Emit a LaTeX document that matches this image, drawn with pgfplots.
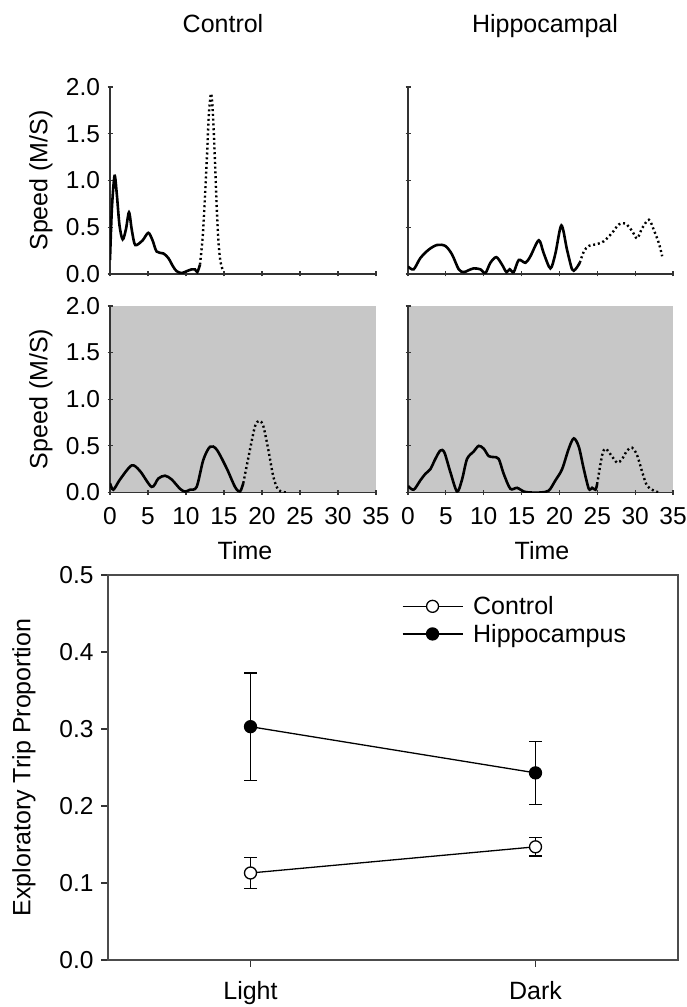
\documentclass[border=0pt]{standalone}
\usepackage{fontspec}
\setmainfont{Liberation Sans}
\usepackage{pgfplots}
\pgfplotsset{compat=1.18}

\newcommand{\lbl}{\fontsize{25}{30}\selectfont}
\newcommand{\tk}{\fontsize{24.5}{28}\selectfont}

\pgfplotsset{
  speed/.style={
    scale only axis, width=266pt, height=187pt,
    xmin=0, xmax=35, ymin=0, ymax=2,
    axis lines=left, axis line style={-, line width=1.6pt, black!80},
    xtick={0,5,...,35}, ytick={0,0.5,1,1.5,2},
    tick align=center, major tick length=5pt,
    tick style={line width=1.2pt, black!80},
    tick label style={font=\tk},
    /pgf/number format/assume math mode=true,
    yticklabel style={/pgf/number format/fixed, /pgf/number format/fixed zerofill,
      /pgf/number format/precision=1, xshift=-4pt},
    xticklabel style={yshift=-9pt},
  },
  run/.style={black, line width=2.6pt, smooth, no marks},
  dots/.style={black, line width=2.4pt, smooth, no marks, dash pattern=on 2pt off 2.8pt},
  dark/.style={axis background/.style={fill=black!22}},
}

\begin{document}
\begin{tikzpicture}
\path[use as bounding box] (0,0) rectangle (687pt,1007pt);

\node[anchor=base, font=\lbl] at (223pt,974pt) {Control};
\node[anchor=base, font=\lbl] at (545pt,974pt) {Hippocampal};

% light, control
\begin{axis}[speed, at={(110pt,733pt)}, anchor=south west, xticklabels={}]
\addplot[run] coordinates {(0,0.15) (0.25,0.7) (0.6,1.05) (0.9,0.85) (1.25,0.52) (1.67,0.37) (2.1,0.48) (2.5,0.66) (2.85,0.48) (3.2,0.33) (3.51,0.31) (4.3,0.36) (5.04,0.44) (5.6,0.36) (6.14,0.24) (7.02,0.22) (7.68,0.17) (8.3,0.08) (8.77,0.03) (9.43,0.01) (10.09,0.03) (10.75,0.05) (11.18,0.05) (11.49,0.02) (11.84,0.10)};
\addplot[dots] coordinates {(11.84,0.10) (12.2,0.4) (12.5,0.83) (12.8,1.33) (13.0,1.7) (13.3,1.93) (13.55,1.7) (13.82,1.19) (14.04,0.72) (14.25,0.37) (14.5,0.15) (14.8,0.05)};
\end{axis}

% light, hippocampal
\begin{axis}[speed, at={(408pt,733pt)}, anchor=south west, width=265pt, xticklabels={}, yticklabels={}]
\addplot[run] coordinates {(0,0.08) (0.75,0.05) (1.63,0.17) (2.73,0.26) (3.83,0.31) (4.93,0.30) (5.81,0.21) (6.70,0.05) (7.36,0.02) (8.0,0.04) (8.68,0.06) (9.56,0.05) (10.22,0.01) (10.88,0.12) (11.67,0.18) (12.42,0.10) (13.0,0.02) (13.44,0.05) (13.96,0.02) (14.63,0.15) (15.51,0.12) (16.17,0.19) (17.27,0.36) (17.93,0.22) (18.81,0.06) (19.47,0.22) (20.26,0.52) (21.0,0.26) (21.67,0.05) (22.11,0.05) (22.69,0.12)};
\addplot[dots] coordinates {(22.69,0.12) (23.22,0.24) (23.88,0.30) (24.98,0.32) (25.86,0.35) (26.96,0.44) (27.84,0.53) (28.72,0.54) (29.6,0.46) (30.26,0.38) (30.93,0.49) (31.81,0.58) (32.47,0.47) (33.13,0.33) (33.57,0.19)};
\end{axis}

% dark, control
\begin{axis}[speed, dark, at={(110pt,514.5pt)}, anchor=south west, height=186.5pt]
\addplot[run] coordinates {(0,0.10) (0.44,0.03) (1.32,0.14) (2.85,0.29) (3.95,0.23) (5.48,0.06) (6.36,0.15) (7.24,0.18) (8.11,0.14) (9.21,0.04) (9.87,0.01) (10.53,0.03) (11.4,0.06) (12.28,0.35) (13.16,0.49) (14.04,0.46) (15.35,0.26) (16.45,0.06) (17.1,0.01) (17.54,0.10)};
\addplot[dots] coordinates {(17.54,0.10) (18.42,0.46) (19.08,0.71) (19.65,0.77) (20.18,0.71) (20.83,0.46) (21.49,0.17) (22.15,0.03) (23.2,0.0)};
\end{axis}

% dark, hippocampal
\begin{axis}[speed, dark, at={(408pt,514.5pt)}, anchor=south west, width=265pt, height=186.5pt, yticklabels={}]
\addplot[run] coordinates {(0,0.07) (0.75,0.03) (1.63,0.13) (2.29,0.20) (2.95,0.25) (3.61,0.36) (4.27,0.45) (4.8,0.43) (5.59,0.22) (6.48,0.01) (7.14,0.14) (7.8,0.36) (8.68,0.44) (9.34,0.50) (10.0,0.47) (10.66,0.39) (11.32,0.38) (11.98,0.36) (12.64,0.20) (13.52,0.04) (14.41,0.05) (15.29,0.01) (16.17,0.0) (17.49,0.0) (18.59,0.02) (19.47,0.13) (20.35,0.25) (21.23,0.47) (21.89,0.58) (22.56,0.49) (23.22,0.25) (23.88,0.04) (24.32,0.05) (24.76,0.03) (24.98,0.09)};
\addplot[dots] coordinates {(24.98,0.09) (25.64,0.40) (26.08,0.47) (26.74,0.41) (27.62,0.32) (28.28,0.36) (28.94,0.45) (29.6,0.48) (30.26,0.40) (30.93,0.22) (31.59,0.07) (32.47,0.02) (33.2,0.0)};
\end{axis}

\node[rotate=90, font=\lbl] at (41pt,826.5pt) {Speed (M/S)};
\node[rotate=90, font=\lbl] at (41pt,608pt) {Speed (M/S)};
\node[anchor=base, font=\lbl] at (245pt,447pt) {Time};
\node[anchor=base, font=\lbl] at (542pt,447pt) {Time};

% proportions
\begin{axis}[at={(108pt,47pt)}, anchor=south west, scale only axis,
  width=570pt, height=385pt,
  xmin=0.5, xmax=2.5, ymin=0, ymax=0.5,
  xtick={1,2}, xticklabels={Light,Dark},
  ytick={0,0.1,0.2,0.3,0.4,0.5},
  xtick pos=bottom, ytick pos=left,
  tick align=outside, major tick length=7pt,
  tick style={line width=1.3pt, black!80},
  axis line style={line width=1.6pt, black!70},
  tick label style={font=\tk},
  /pgf/number format/assume math mode=true,
  yticklabel style={/pgf/number format/fixed, /pgf/number format/fixed zerofill,
    /pgf/number format/precision=1, xshift=-4pt},
  xticklabel style={font=\lbl, yshift=-11pt},
  legend style={draw=none, fill=none, at={(0.51,0.955)}, anchor=north west,
    font=\lbl, row sep=4pt,
    /tikz/every odd column/.append style={column sep=8pt}},
  legend cell align=left,
  legend image code/.code={\draw[#1, mark repeat=2, mark phase=2] plot coordinates {(0pt,0pt) (30pt,0pt) (60pt,0pt)};},
]
\addplot[black, line width=1.3pt, mark=*, mark size=6pt,
  mark options={fill=white, draw=black, line width=1.3pt, solid},
  error bars/.cd, y dir=both, y explicit,
  error bar style={line width=1.6pt},
  error mark options={rotate=90, mark size=6.5pt, line width=1.6pt}]
  coordinates {(1,0.113) +- (0,0.020) (2,0.147) +- (0,0.012)};
\addlegendentry{Control}
\addplot[black, line width=1.3pt, mark=*, mark size=6pt,
  mark options={fill=black, draw=black, line width=1.3pt, solid},
  error bars/.cd, y dir=both, y explicit,
  error bar style={line width=1.6pt},
  error mark options={rotate=90, mark size=6.5pt, line width=1.6pt}]
  coordinates {(1,0.303) +- (0,0.070) (2,0.243) +- (0,0.041)};
\addlegendentry{Hippocampus}
\end{axis}

\node[rotate=90, font=\lbl] at (24pt,239.5pt) {Exploratory Trip Proportion};
\end{tikzpicture}
\end{document}
